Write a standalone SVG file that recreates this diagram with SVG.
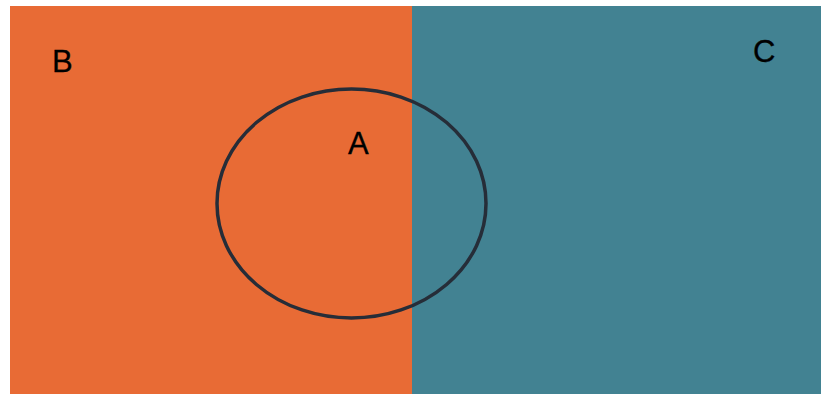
<svg xmlns="http://www.w3.org/2000/svg" width="821" height="395" viewBox="0 0 821 395">
<style>
.lbl{font-family:"Liberation Sans",Arial,sans-serif;font-size:31px;fill:#000;stroke:#000;stroke-width:0.3;}
</style>
<rect width="821" height="395" fill="#ffffff"/>
<g id="B">
<rect x="10" y="6" width="402" height="388" fill="#E86B35"/>
<text class="lbl" x="52" y="72">B</text>
</g>
<g id="C">
<rect x="412" y="6" width="409" height="388" fill="#428292"/>
<text class="lbl" x="753" y="62">C</text>
</g>
<g id="A">
<ellipse cx="351.5" cy="203.5" rx="134.5" ry="114.5" fill="none" stroke="#262d38" stroke-width="3.5"/>
<text class="lbl" x="348" y="154">A</text>
</g>
</svg>
